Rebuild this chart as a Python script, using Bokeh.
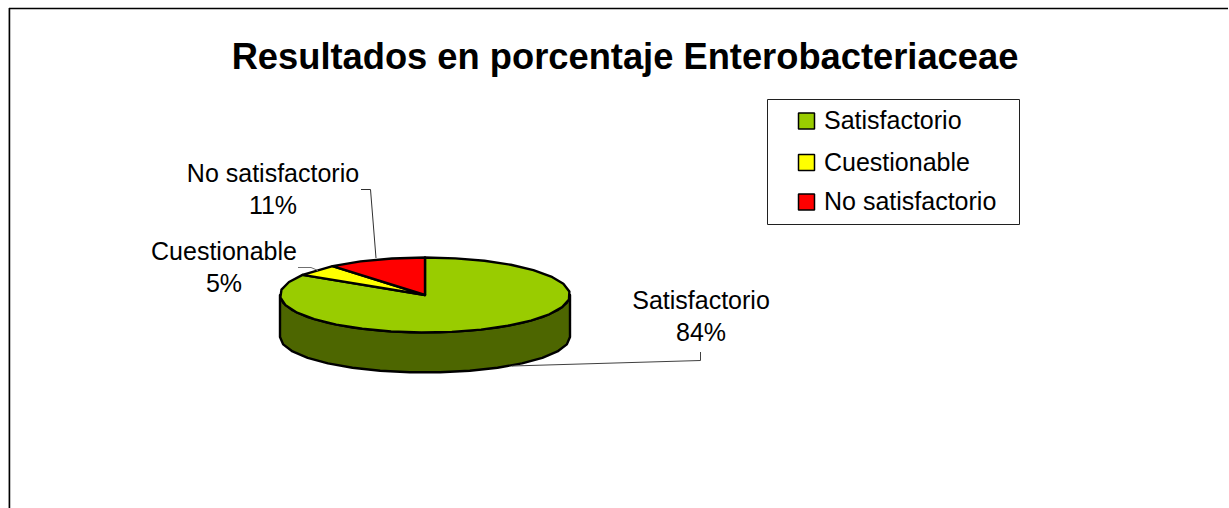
import numpy as np
from bokeh.core.properties import value
from bokeh.embed import file_html
from bokeh.models import ColumnDataSource, Range1d
from bokeh.plotting import figure
from bokeh.resources import INLINE

# Data
title = "Resultados en porcentaje Enterobacteriaceae"
categories = ["Satisfactorio", "Cuestionable", "No satisfactorio"]
percent = [84, 5, 11]
colors = ["#99CC00", "#FFFF00", "#FF0000"]
side_color = "#4D6600"

# Layout (page pixels)
W, H = 1229, 508
FONT = value("Liberation Sans")
CX, CY, RX, RY = 425.0, 295.0, 145.0, 37.5
DEPTH, RY_LOW = 42.0, 35.5

p = figure(width=W, height=H, output_backend="svg", toolbar_location=None,
           x_range=Range1d(0.5, W + 0.5), y_range=Range1d(H + 0.5, 0.5),
           min_border=0, outline_line_color=None, x_axis_type=None, y_axis_type=None,
           background_fill_color="white", border_fill_color="white")
p.grid.visible = False


def ellipse_pts(a0, a1, cy=CY, ry=RY, step=12.0):
    n = max(2, int(abs(a1 - a0) / step) + 1)
    t = np.radians(np.linspace(a0, a1, n))
    return CX + RX * np.sin(t), cy - ry * np.cos(t)


# Frame
p.line([8.5, 8.5], [8, 509], line_color="#C4C4C4", line_width=1)
p.line([9.5, 9.5], [8, 509], line_color="black", line_width=1.5)
p.line([9, 1228], [8.5, 8.5], line_color="black", line_width=1.5)

# Pie side wall
xt, yt = ellipse_pts(90, 270)
xb, yb = ellipse_pts(270, 90, cy=CY + DEPTH, ry=RY_LOW)
p.patch(np.r_[xt, xb], np.r_[yt, yb], fill_color=side_color,
        line_color="black", line_width=2.4, line_join="round")

# Pie top, one wedge per value, clockwise from 12 o'clock
edges = np.r_[0, np.cumsum(percent)] / sum(percent) * 360.0
xs, ys = [], []
for a0, a1 in zip(edges[:-1], edges[1:]):
    ex, ey = ellipse_pts(a0, a1)
    xs.append(np.r_[CX, ex].tolist())
    ys.append(np.r_[CY, ey].tolist())
p.patches(xs="xs", ys="ys", fill_color="fc",
          source=ColumnDataSource(dict(xs=xs, ys=ys, fc=colors)),
          line_color="black", line_width=2.4, line_join="round")

# Leader lines
p.line([700.5, 700.5, 512], [352, 360.5, 366], line_color="#404040", line_width=1)
p.line([298, 311, 318], [267.5, 267.5, 270.5], line_color="#707070", line_width=1)
p.line([361, 370.5, 376], [189.5, 189.5, 258], line_color="#303030", line_width=1)

# Slice labels
label_x = [701, 224, 273]
label_y = [299.5, 250.5, 172.5]
LINE_GAP = 32.5
p.text(label_x, label_y, text=categories, text_font=FONT, text_font_size="25px",
       text_color="black", text_align="center", text_baseline="middle")
p.text(label_x, [y + LINE_GAP for y in label_y], text=[f"{v}%" for v in percent],
       text_font=FONT, text_font_size="25px", text_color="black",
       text_align="center", text_baseline="middle")

# Title
p.text([625], [56.5], text=[title], text_font=FONT, text_font_style="bold",
       text_font_size="36.3px", text_color="black", text_align="center", text_baseline="middle")

# Legend
p.quad(left=[767.5], right=[1019.5], top=[99.5], bottom=[224.5], fill_color="white",
       line_color="#202020", line_width=1)
leg_y = [121, 162.5, 202]
p.rect([806.5] * 3, leg_y, width=16, height=16, fill_color=colors,
       line_color="black", line_width=1.5)
p.text([824] * 3, [y - 1 for y in leg_y], text=categories, text_font=FONT, text_font_size="25px",
       text_color="black", text_align="left", text_baseline="middle")

open("out.html", "w").write(file_html(p, INLINE))
